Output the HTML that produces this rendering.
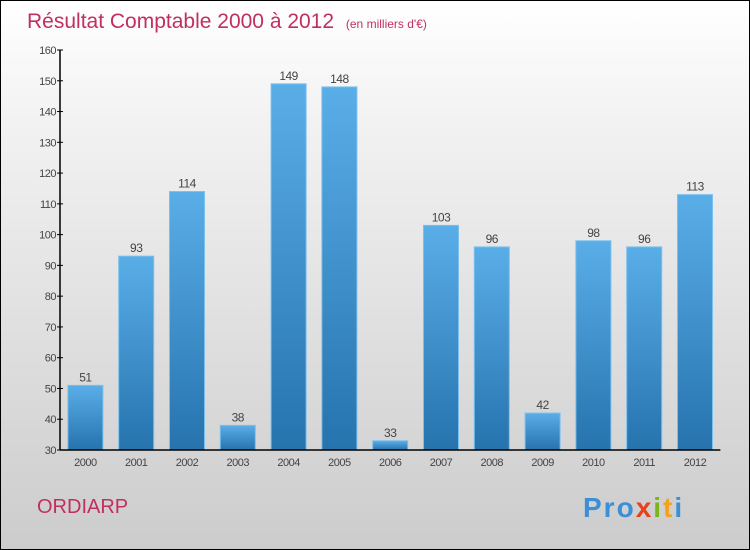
<!DOCTYPE html>
<html><head><meta charset="utf-8"><style>
body{margin:0}
#c{position:relative;width:748px;height:548px;border:1px solid #000;background:linear-gradient(#fff,#f3f3f3 20%,#ccc);font-family:"Liberation Sans",sans-serif;overflow:hidden}
</style></head><body>
<div id="c">
<svg id="s" width="748" height="548" style="position:absolute;left:0;top:0">
<defs><linearGradient id="g" x1="0" y1="0" x2="0" y2="1"><stop offset="0" stop-color="#5aaee8"/><stop offset="1" stop-color="#2673ae"/></linearGradient></defs>
<text x="26" y="27" font-size="21" fill="#c0305e">Résultat Comptable 2000 à 2012 <tspan font-size="12" dx="6">(en milliers d'€)</tspan></text>
<text x="36" y="512" font-size="20" fill="#c0305e">ORDIARP</text>
<text x="582" y="516" font-size="28" font-weight="bold" letter-spacing="2"><tspan fill="#3b8fd6">Pro</tspan><tspan fill="#e8401c">x</tspan><tspan fill="#7ab51d">i</tspan><tspan fill="#f2a31b">t</tspan><tspan fill="#3b8fd6">i</tspan></text>
<g id="plot"></g>
</svg>
</div>
<script>
const years=["2000","2001","2002","2003","2004","2005","2006","2007","2008","2009","2010","2011","2012"];
const values=[51,93,114,38,149,148,33,103,96,42,98,96,113];
const ticks=[30,40,50,60,70,80,90,100,110,120,130,140,150,160];
const NS="http://www.w3.org/2000/svg";
const g=document.getElementById('plot');
const x0=59,slot=50.8,y0=449,yTop=49,vmin=30,vmax=160;
const y=v=>y0-(v-vmin)/(vmax-vmin)*(y0-yTop);
const xc=i=>x0+slot*(i+0.5);
function el(t,a,txt){const e=document.createElementNS(NS,t);for(const k in a)e.setAttribute(k,a[k]);if(txt!=null)e.textContent=txt;g.appendChild(e);return e;}
ticks.forEach(t=>{
 const l=el('line',{x1:x0-3,x2:x0+3,y1:y(t),y2:y(t),stroke:'#000'});
 
 
 const tx=el('text',{x:x0-4,y:y(t)+4,'font-size':11,'text-anchor':'end',fill:'#444','letter-spacing':'-0.5'},t);
 
 
});
years.forEach((yr,i)=>{
 const v=values[i],top=y(v);
 const r=el('rect',{x:xc(i)-17.5,y:top,width:35,height:y0-top,fill:'url(#g)',stroke:'#7bbfee','stroke-width':1});
 
 
 const vl=el('text',{x:xc(i),y:top-4,'font-size':12,'text-anchor':'middle',fill:'#444','letter-spacing':'-0.5'},v);
 
 
 const xl=el('text',{x:xc(i),y:y0+16,'font-size':11,'text-anchor':'middle',fill:'#444','letter-spacing':'-0.5'},yr);
 
 
});
const ya=el('line',{x1:x0,x2:x0,y1:yTop,y2:y0,stroke:'#000','stroke-width':1.5});


const xa=el('line',{x1:x0,x2:x0+slot*13,y1:y0,y2:y0,stroke:'#000','stroke-width':1.5});


</script>
</body></html>
